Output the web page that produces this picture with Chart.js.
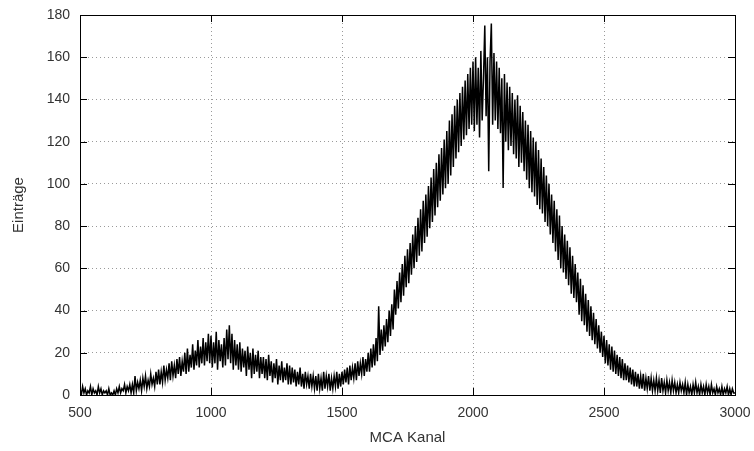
<!DOCTYPE html>
<html>
<head>
<meta charset="utf-8">
<script src="https://cdn.jsdelivr.net/npm/chart.js@4.4.1/dist/chart.umd.min.js"></script>
<style>
  html, body { margin: 0; padding: 0; background: #fff; }
  #wrap { width: 754px; height: 451px; }
</style>
</head>
<body>
<div id="wrap"><canvas id="spectrum" width="754" height="451"></canvas></div>
<script>
  // MCA spectrum, one value every 5 channels from 500 to 3000
  var CHANNEL_START = 500;
  var CHANNEL_STEP = 5;
  var COUNTS = [
    // 500-595
    3,0,4,1,3,0,2,1,4,0,3,1,2,0,4,1,3,0,2,1,
    // 600-695
    2,0,3,0,1,0,2,0,3,1,4,1,3,2,5,1,4,2,5,1,
    // 700-795
    5,1,9,2,6,3,7,2,8,4,9,3,7,4,10,5,8,4,11,5,
    // 800-895
    12,5,11,6,14,7,12,8,15,7,16,9,14,8,17,10,18,9,16,11,
    // 900-995
    20,10,22,11,19,13,24,12,21,14,26,13,23,15,27,14,25,16,29,15,
    // 1000-1095
    28,13,25,15,30,12,26,16,24,13,27,14,31,17,33,15,29,12,26,14,
    // 1100-1195
    24,12,25,11,22,13,21,9,23,12,20,8,22,10,19,11,21,8,18,10,
    // 1200-1295
    18,8,17,7,19,9,16,6,15,8,17,5,14,7,16,6,13,7,15,5,
    // 1300-1395
    14,5,13,6,12,4,11,5,13,4,10,3,11,5,9,3,10,4,9,3,
    // 1400-1495
    9,2,10,3,8,2,11,3,9,4,10,2,8,3,9,4,11,3,10,4,
    // 1500-1595
    11,5,12,6,13,5,14,7,13,8,15,7,16,9,15,10,18,9,17,11,
    // 1600-1695
    20,11,22,13,24,14,27,16,42,19,31,21,33,23,36,25,40,28,43,31,
    // 1700-1795
    50,38,54,41,58,44,62,47,66,51,69,53,72,57,76,60,80,63,84,66,
    // 1800-1895
    88,68,92,72,95,75,99,79,103,82,107,85,110,89,114,92,117,95,121,98,
    // 1900-1995
    125,100,130,104,133,108,137,112,140,115,143,118,146,121,149,123,152,126,155,128,
    // 2000-2095
    158,125,160,128,155,122,163,130,150,175,132,160,106,158,176,128,162,130,158,126,
    // 2100-2195
    155,124,150,98,152,120,148,116,146,118,143,114,140,112,142,108,137,110,134,106,
    // 2200-2295
    130,102,128,98,125,96,122,94,120,90,116,88,112,86,108,82,104,80,100,76,
    // 2300-2395
    95,72,92,68,88,64,85,60,80,58,76,55,73,52,70,48,66,46,62,44,
    // 2400-2495
    58,38,55,35,52,33,48,30,45,28,42,26,39,24,36,22,33,20,30,18,
    // 2500-2595
    28,15,26,14,24,12,23,11,21,10,19,9,18,8,17,7,15,7,14,6,
    // 2600-2695
    13,5,12,4,11,4,10,3,9,3,10,2,8,3,9,2,8,2,7,2,
    // 2700-2795
    8,2,7,1,8,2,6,1,7,2,6,1,7,2,6,1,5,1,6,2,
    // 2800-2895
    5,1,6,0,5,1,4,0,5,1,6,1,4,0,5,1,4,0,5,1,
    // 2900-2995
    4,0,5,1,3,0,4,1,3,0,4,0,3,1,4,0,3,0,3,1,
    // 3000
    1
  ];
  var X_TICKS = [500, 1000, 1500, 2000, 2500, 3000];
  var Y_TICKS = [0, 20, 40, 60, 80, 100, 120, 140, 160, 180];

  var points = COUNTS.map(function (c, i) { return { x: CHANNEL_START + i * CHANNEL_STEP, y: c }; });

  var FONT = { family: "'Liberation Sans', Arial, sans-serif", size: 14 };

  // gnuplot style: black frame with ticks pointing inwards on all four sides
  var framePlugin = {
    id: 'frame',
    afterDatasetsDraw: function (chart) {
      var ctx = chart.ctx, a = chart.chartArea;
      var xs = chart.scales.x, ys = chart.scales.y, len = 7;
      ctx.save();
      ctx.strokeStyle = '#000';
      ctx.lineWidth = 1;
      ctx.beginPath();
      X_TICKS.forEach(function (v) {
        var px = Math.round(xs.getPixelForValue(v)) + 0.5;
        ctx.moveTo(px, a.bottom); ctx.lineTo(px, a.bottom - len);
        ctx.moveTo(px, a.top); ctx.lineTo(px, a.top + len);
      });
      Y_TICKS.forEach(function (v) {
        var py = Math.round(ys.getPixelForValue(v)) + 0.5;
        ctx.moveTo(a.left, py); ctx.lineTo(a.left + len, py);
        ctx.moveTo(a.right, py); ctx.lineTo(a.right - len, py);
      });
      ctx.stroke();
      ctx.strokeRect(Math.round(a.left) + 0.5, Math.round(a.top) + 0.5,
        Math.round(a.right - a.left), Math.round(a.bottom - a.top));
      ctx.restore();
    }
  };

  function plain(v) { return String(v); }

  new Chart(document.getElementById('spectrum').getContext('2d'), {
    type: 'line',
    data: {
      datasets: [{
        data: points,
        borderColor: '#000',
        borderWidth: 1.5,
        pointRadius: 0,
        tension: 0,
        fill: false
      }]
    },
    options: {
      responsive: false,
      animation: false,
      events: [],
      layout: { padding: { top: 15, right: 19, left: 0, bottom: 0 } },
      plugins: { legend: { display: false }, tooltip: { enabled: false } },
      scales: {
        x: {
          type: 'linear',
          min: 500, max: 3000,
          afterFit: function (s) { s.height = 56; s.paddingLeft = 0; s.paddingRight = 0; },
          afterBuildTicks: function (s) { s.ticks = X_TICKS.map(function (v) { return { value: v }; }); },
          ticks: { color: '#333', font: FONT, padding: 10, maxRotation: 0, callback: plain },
          grid: { color: '#9a9a9a', drawTicks: false },
          border: { display: false, dash: [1, 3] },
          title: { display: true, text: 'MCA Kanal', color: '#333', font: { family: FONT.family, size: 15 }, padding: { top: 4, bottom: 4 } }
        },
        y: {
          min: 0, max: 180,
          afterFit: function (s) { s.width = 80; s.paddingTop = 0; s.paddingBottom = 0; },
          afterBuildTicks: function (s) { s.ticks = Y_TICKS.map(function (v) { return { value: v }; }); },
          ticks: { color: '#333', font: FONT, padding: 10, callback: plain },
          grid: { color: '#9a9a9a', drawTicks: false },
          border: { display: false, dash: [1, 3] },
          title: { display: true, text: 'Einträge', color: '#333', font: { family: FONT.family, size: 15 }, padding: { top: 10, bottom: 4 } }
        }
      }
    },
    plugins: [framePlugin]
  });
</script>
</body>
</html>
